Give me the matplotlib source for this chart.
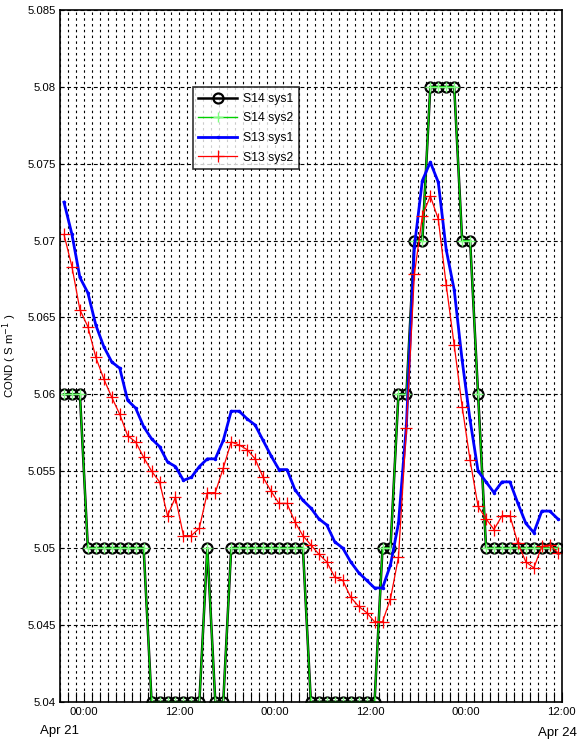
import numpy as np
import matplotlib
matplotlib.use("Agg")
import matplotlib.pyplot as plt
from matplotlib.ticker import FixedLocator

plt.rcParams['font.family'] = ['Liberation Sans', 'DejaVu Sans']

# hourly samples (hours relative to 00:00 Apr 21)
hours = np.arange(63) - 2.5

s14_sys1 = [5.06, 5.06, 5.06,
            5.05, 5.05, 5.05, 5.05, 5.05, 5.05, 5.05, 5.05,
            5.04, 5.04, 5.04, 5.04, 5.04, 5.04, 5.04,
            5.05,
            5.04, 5.04,
            5.05, 5.05, 5.05, 5.05, 5.05, 5.05, 5.05, 5.05, 5.05, 5.05,
            5.04, 5.04, 5.04, 5.04, 5.04, 5.04, 5.04, 5.04, 5.04,
            5.05, 5.05,
            5.06, 5.06,
            5.07, 5.07,
            5.08, 5.08, 5.08, 5.08,
            5.07, 5.07,
            5.06,
            5.05, 5.05, 5.05, 5.05, 5.05, 5.05, 5.05, 5.05, 5.05, 5.05]
s14_sys2 = list(s14_sys1)

s13_sys1 = [5.0725, 5.0704, 5.0676, 5.0666, 5.0645, 5.0631, 5.0621, 5.0617,
            5.0596, 5.0591, 5.0579, 5.0571, 5.0566, 5.0556, 5.0553, 5.0544,
            5.0546, 5.0553, 5.0558, 5.0558, 5.0570, 5.0589, 5.0589, 5.0584,
            5.0580, 5.0570, 5.0560, 5.0551, 5.0551, 5.0538, 5.0531, 5.0526,
            5.0519, 5.0515, 5.0504, 5.0500, 5.0491, 5.0484, 5.0479, 5.0474,
            5.0474, 5.0489, 5.0516, 5.0580, 5.0696, 5.0739, 5.0751, 5.0738,
            5.0694, 5.0668, 5.0622, 5.0583, 5.0550, 5.0543, 5.0536, 5.0543,
            5.0543, 5.0529, 5.0516, 5.0510, 5.0524, 5.0524, 5.0519]

s13_sys2 = [5.0704, 5.0683, 5.0655, 5.0644, 5.0624, 5.0610, 5.0598, 5.0587,
            5.0573, 5.0569, 5.0559, 5.0550, 5.0543, 5.0521, 5.0533, 5.0508,
            5.0508, 5.0513, 5.0536, 5.0536, 5.0552, 5.0569, 5.0567, 5.0564,
            5.0558, 5.0546, 5.0537, 5.0529, 5.0529, 5.0517, 5.0508, 5.0502,
            5.0496, 5.0491, 5.0481, 5.0479, 5.0468, 5.0462, 5.0458, 5.0452,
            5.0452, 5.0467, 5.0494, 5.0578, 5.0678, 5.0716, 5.0729, 5.0714,
            5.0671, 5.0632, 5.0592, 5.0557, 5.0527, 5.0519, 5.0512, 5.0521,
            5.0521, 5.0503, 5.0491, 5.0487, 5.0501, 5.0502, 5.0497]

xtick_pos = [0, 12, 24, 36, 48, 60]
xtick_labels = ["00:00", "12:00", "00:00", "12:00", "00:00", "12:00"]
ytick_vals = [5.04, 5.045, 5.05, 5.055, 5.06, 5.065, 5.07, 5.075, 5.08, 5.085]
ytick_labels = ["5.04", "5.045", "5.05", "5.055", "5.06", "5.065", "5.07", "5.075", "5.08", "5.085"]

fig = plt.figure(figsize=(5.81, 7.42), dpi=100)
ax = fig.add_axes([60/581, 1 - 701.7/742, 501.7/581, 691.7/742])

ax.plot(hours, s14_sys1, color='black', lw=1.8, marker='o', ms=7.2,
        mfc='none', mec='black', mew=1.6, label='S14 sys1', zorder=3)
ax.plot(hours, s14_sys2, color='#00d000', lw=1.0, marker='+', ms=7,
        mec='#80ff80', mew=1.0, label='S14 sys2', zorder=4)
ax.plot(hours, s13_sys1, color='#0000ff', lw=2.0, marker='.', ms=3,
        label='S13 sys1', zorder=5)
ax.plot(hours, s13_sys2, color='#ff0000', lw=0.9, marker='+', ms=8,
        mew=0.9, label='S13 sys2', zorder=6)

ax.set_xlim(-3, 60)
ax.set_ylim(5.04, 5.085)

ax.xaxis.set_major_locator(FixedLocator(xtick_pos))
ax.set_xticklabels(xtick_labels)
ax.xaxis.set_minor_locator(FixedLocator(list(range(-3, 61))))
ax.set_yticks(ytick_vals)
ax.set_yticklabels(ytick_labels)

ax.tick_params(axis='x', which='both', direction='in', length=7, width=0.8,
               labelsize=8.2, pad=4, colors='black')
ax.tick_params(axis='y', which='both', direction='in', length=3, width=0.8,
               labelsize=8.2, pad=3)

# grid
for h in range(-3, 61):
    ax.axvline(h, color='black', lw=0.8, ls=(0, (2.2, 3.0)), zorder=1)
for v in ytick_vals:
    ax.axhline(v, color='black', lw=0.8, ls=(0, (3.5, 2.5)), zorder=1)

for sp in ax.spines.values():
    sp.set_linewidth(1.2)
    sp.set_zorder(10)

ax.set_ylabel('COND ( S m$^{-1}$ )', fontsize=8.2, labelpad=6)

leg = ax.legend(loc='upper left', bbox_to_anchor=((192.7-60)/501.7, (701.7-87.3)/691.7),
                borderaxespad=0, fontsize=8.8, frameon=True, fancybox=False,
                handlelength=3.2, labelspacing=0.62, borderpad=0.45,
                handletextpad=0.5)
leg.get_frame().set_edgecolor('black')
leg.get_frame().set_linewidth(1.2)
leg.set_zorder(20)

fig.text(59/581, 1 - 731/742, 'Apr 21', ha='center', va='center', fontsize=9.5)
fig.text(557/581, 1 - 733/742, 'Apr 24', ha='center', va='center', fontsize=9.5)

fig.savefig('out.png', dpi=100)
